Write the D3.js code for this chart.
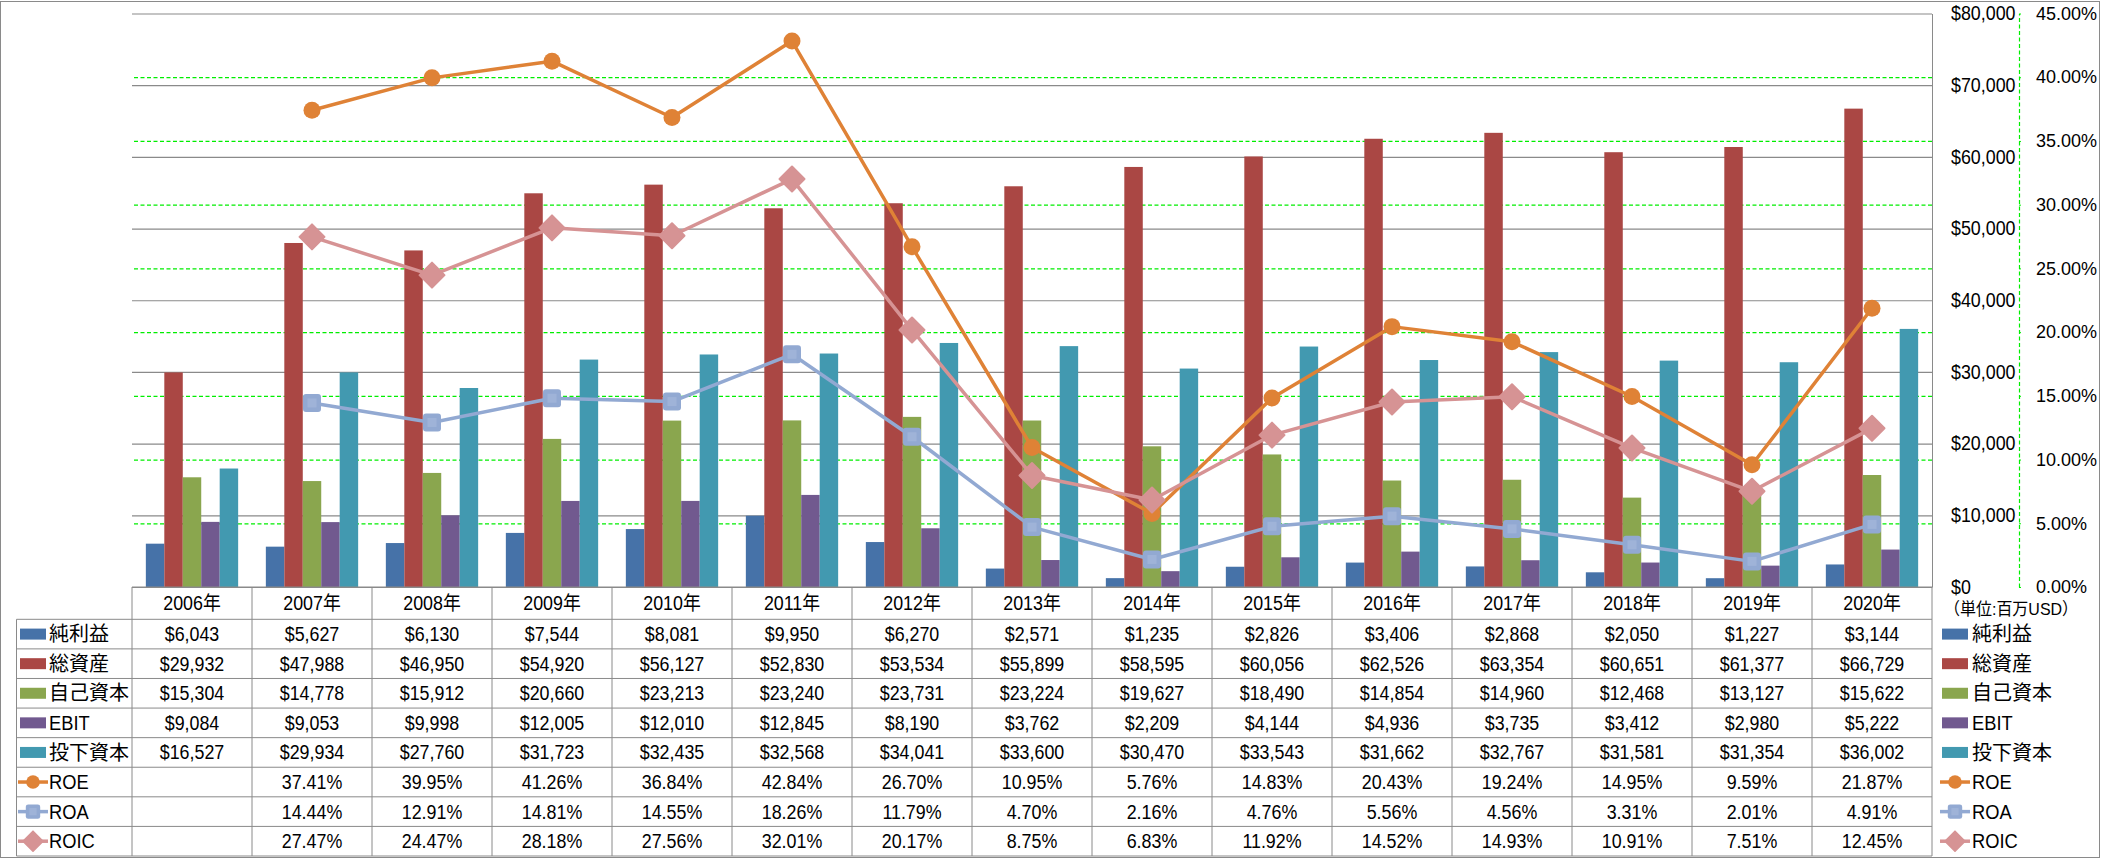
<!DOCTYPE html>
<html><head><meta charset="utf-8">
<script src="https://cdn.jsdelivr.net/npm/d3@7"></script>
<style>
html,body{margin:0;padding:0;background:#fff;}
svg text{font-family:"Liberation Sans","Noto Sans CJK JP",sans-serif;fill:#000;}
</style></head>
<body><svg id="c" width="2101" height="858"></svg>
<script>
const years = ['2006年','2007年','2008年','2009年','2010年','2011年','2012年','2013年','2014年','2015年','2016年','2017年','2018年','2019年','2020年'];
const netIncome = [6043,5627,6130,7544,8081,9950,6270,2571,1235,2826,3406,2868,2050,1227,3144];
const totalAssets = [29932,47988,46950,54920,56127,52830,53534,55899,58595,60056,62526,63354,60651,61377,66729];
const equity = [15304,14778,15912,20660,23213,23240,23731,23224,19627,18490,14854,14960,12468,13127,15622];
const ebit = [9084,9053,9998,12005,12010,12845,8190,3762,2209,4144,4936,3735,3412,2980,5222];
const investedCapital = [16527,29934,27760,31723,32435,32568,34041,33600,30470,33543,31662,32767,31581,31354,36002];
const roe = [null,37.41,39.95,41.26,36.84,42.84,26.70,10.95,5.76,14.83,20.43,19.24,14.95,9.59,21.87];
const roa = [null,14.44,12.91,14.81,14.55,18.26,11.79,4.70,2.16,4.76,5.56,4.56,3.31,2.01,4.91];
const roic = [null,27.47,24.47,28.18,27.56,32.01,20.17,8.75,6.83,11.92,14.52,14.93,10.91,7.51,12.45];
const dollarTicks = [0,10000,20000,30000,40000,50000,60000,70000,80000];
const pctTicks = [0,5,10,15,20,25,30,35,40,45];
const unitLabel = '（単位:百万USD）';

const barSeries = [
  {name:'純利益', values:netIncome, color:'#4672A8'},
  {name:'総資産', values:totalAssets, color:'#AA4744'},
  {name:'自己資本', values:equity, color:'#8AA64E'},
  {name:'EBIT', values:ebit, color:'#71598F'},
  {name:'投下資本', values:investedCapital, color:'#4299B0'}
];
const lineSeries = [
  {name:'ROE', values:roe, color:'#DF8236', marker:'circle'},
  {name:'ROA', values:roa, color:'#92A9D2', marker:'square'},
  {name:'ROIC', values:roic, color:'#D69394', marker:'diamond'}
];

const svg = d3.select('#c');
const L = 132, R = 1932, T = 13.5, B = 587;
const tableLeft = 16.5, headerBottom = 619.3, tableBottom = 856;
const rowH = (tableBottom - headerBottom) / 8;
const FS = 19.5;

const x = d3.scaleBand().domain(years).range([L, R]).paddingInner(0).paddingOuter(0);
const x1 = d3.scaleBand().domain(barSeries.map(s=>s.name)).range([0, x.bandwidth()]).paddingInner(0).paddingOuter(0.75);
const yL = d3.scaleLinear().domain([0, 80000]).range([B, T]);
const yR = d3.scaleLinear().domain([0, 45]).range([B, T]);

// outer border
svg.append('rect').attr('x',0.5).attr('y',1.5).attr('width',2099).attr('height',856)
  .attr('fill','none').attr('stroke','#8a8a8a').attr('stroke-width',1);

// green dashed gridlines (secondary)
const gG = svg.append('g').attr('transform',`translate(${R},0)`)
  .call(d3.axisRight(yR).tickValues(pctTicks.slice(1,-1)).tickSizeInner(-(R-L)).tickSizeOuter(0).tickFormat(''));
gG.select('.domain').remove();
gG.selectAll('.tick line').attr('stroke','#00ee00').attr('stroke-width',1.3).attr('stroke-dasharray','4,2.5');

// primary axis with gray gridlines
const gL = svg.append('g').attr('transform',`translate(${R},0)`)
  .call(d3.axisRight(yL).tickValues(dollarTicks).tickSizeInner(-(R-L)).tickSizeOuter(0).tickPadding(19).tickFormat(d3.format('$,')));
gL.select('.domain').attr('stroke','#8a8a8a');
gL.selectAll('.tick line').attr('stroke','#8a8a8a').attr('stroke-width',1.2);
gL.selectAll('.tick text').attr('font-size',FS).attr('fill','#000').style('font-family','"Liberation Sans",sans-serif');

// secondary axis
const gR = svg.append('g').attr('transform','translate(2019,0)')
  .call(d3.axisRight(yR).tickValues(pctTicks).tickSizeInner(2).tickSizeOuter(0).tickPadding(15).tickFormat(d=>d3.format('.2f')(d)+'%'));
gR.select('.domain').attr('stroke','#00ee00').attr('stroke-dasharray','4,2.5').attr('stroke-width',1.2);
gR.selectAll('.tick line').attr('stroke','#00ee00');
gR.selectAll('.tick text').attr('class','pct').attr('font-size',18).attr('fill','#000').style('font-family','"Liberation Sans",sans-serif');

// bars
const gb = svg.append('g');
barSeries.forEach(s=>{
  gb.append('g').selectAll('rect').data(s.values).join('rect')
    .attr('x',(d,i)=>x(years[i])+x1(s.name))
    .attr('width',x1.bandwidth())
    .attr('y',d=>yL(d)).attr('height',d=>B-yL(d))
    .attr('fill',s.color);
});

// markers
function drawMarker(g, type, color, cx, cy, scale){
  scale = scale||1;
  if(type==='circle'){
    g.append('circle').attr('cx',cx).attr('cy',cy).attr('r',8.5*scale).attr('fill',color);
  } else if(type==='square'){
    const s=18*scale;
    g.append('rect').attr('x',cx-s/2).attr('y',cy-s/2).attr('width',s).attr('height',s).attr('rx',3*scale).attr('fill',color);
    const s2=9*scale;
    g.append('rect').attr('x',cx-s2/2).attr('y',cy-s2/2).attr('width',s2).attr('height',s2).attr('fill','#9fb3d8');
  } else {
    const h=12.5*scale;
    g.append('path').attr('d',`M${cx},${cy-h}L${cx+h},${cy}L${cx},${cy+h}L${cx-h},${cy}Z`)
      .attr('fill',color).attr('stroke',color).attr('stroke-width',2*scale).attr('stroke-linejoin','round');
  }
}

const gl = svg.append('g');
lineSeries.forEach(s=>{
  const pts = s.values.map((v,i)=>({v,i})).filter(p=>p.v!=null);
  const line = d3.line().x(p=>x(years[p.i])+x.bandwidth()/2).y(p=>yR(p.v));
  const g = gl.append('g');
  g.append('path').attr('d',line(pts)).attr('fill','none').attr('stroke',s.color).attr('stroke-width',3.5).attr('stroke-linejoin','round');
  pts.forEach(p=>drawMarker(g, s.marker, s.color, x(years[p.i])+x.bandwidth()/2, yR(p.v)));
});

// data table
const gt = svg.append('g');
const lineC = '#8a8a8a';
gt.append('line').attr('x1',L).attr('x2',R).attr('y1',B).attr('y2',B).attr('stroke',lineC);
gt.selectAll('.hdr').data(years).join('text').attr('class','hdr')
  .attr('x',d=>x(d)+x.bandwidth()/2).attr('y',(B+headerBottom)/2).attr('dy','0.36em')
  .attr('text-anchor','middle').attr('font-size',FS).text(d=>d);
const rows = barSeries.concat(lineSeries);
for(let r=0;r<=rows.length;r++){
  const yy = headerBottom + r*rowH;
  gt.append('line').attr('x1',tableLeft).attr('x2',R).attr('y1',yy).attr('y2',yy).attr('stroke',lineC);
}
gt.append('line').attr('x1',tableLeft).attr('x2',tableLeft).attr('y1',headerBottom).attr('y2',tableBottom).attr('stroke',lineC);
years.forEach(yv=>{
  gt.append('line').attr('x1',x(yv)).attr('x2',x(yv)).attr('y1',B).attr('y2',tableBottom).attr('stroke',lineC);
});
gt.append('line').attr('x1',R).attr('x2',R).attr('y1',B).attr('y2',tableBottom).attr('stroke',lineC);

const fmtD = d3.format('$,');
const fmtP = d=>d3.format('.2f')(d)+'%';
function legendKey(g, s, kx, cy){
  if(s.marker){
    g.append('line').attr('x1',kx).attr('x2',kx+30).attr('y1',cy).attr('y2',cy).attr('stroke',s.color).attr('stroke-width',3.5);
    drawMarker(g, s.marker, s.color, kx+15, cy, 0.8);
  } else {
    g.append('rect').attr('x',kx).attr('y',cy-5.5).attr('width',26).attr('height',11).attr('fill',s.color);
  }
}
rows.forEach((s,r)=>{
  const cy = headerBottom + (r+0.5)*rowH;
  legendKey(gt, s, s.marker?18:20, cy);
  gt.append('text').attr('x',49).attr('y',cy).attr('dy','0.36em').attr('font-size',20).text(s.name);
  s.values.forEach((v,i)=>{
    if(v==null) return;
    gt.append('text').attr('x',x(years[i])+x.bandwidth()/2).attr('y',cy).attr('dy','0.36em')
      .attr('text-anchor','middle').attr('font-size',FS).text(s.marker?fmtP(v):fmtD(v));
  });
  legendKey(gt, s, s.marker?1940:1942, cy);
  gt.append('text').attr('x',1972).attr('y',cy).attr('dy','0.36em').attr('font-size',20).text(s.name);
});
gt.append('text').attr('class','unit').attr('x',1944).attr('y',609).attr('dy','0.36em').attr('font-size',17).text(unitLabel);

// condense latin text to mimic the narrow original face (axis percent labels left as is)
svg.selectAll('text').each(function(){
  const t = this.textContent;
  if(this.classList.contains('pct')) return;
  if(/[0-9$%A-Z]/.test(t)){
    const w = this.getComputedTextLength();
    const k = this.classList.contains('unit') ? 0.94 : 0.915;
    d3.select(this).attr('textLength', w*k).attr('lengthAdjust','spacingAndGlyphs');
  }
});
</script></body></html>
